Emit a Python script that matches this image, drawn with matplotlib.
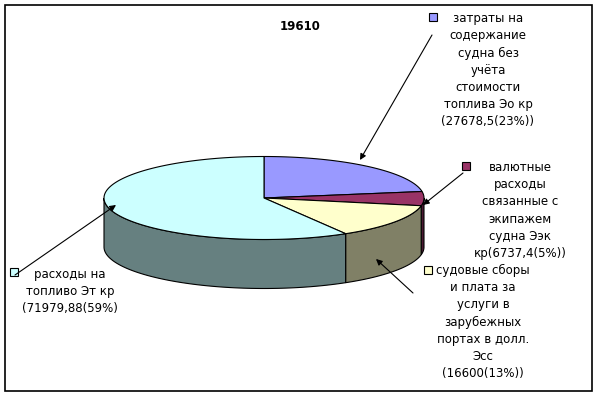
import numpy as np
import matplotlib
matplotlib.use("Agg")
import matplotlib.pyplot as plt
from matplotlib.patches import Polygon, Rectangle

title = "19610"
labels = [
    "затраты на\nсодержание\nсудна без\nучёта\nстоимости\nтоплива Эо кр\n(27678,5(23%))",
    "валютные\nрасходы\nсвязанные с\nэкипажем\nсудна Ээк\nкр(6737,4(5%))",
    "судовые сборы\nи плата за\nуслуги в\nзарубежных\nпортах в долл.\nЭсс\n(16600(13%))",
    "расходы на\nтопливо Эт кр\n(71979,88(59%)",
]
values = [27678.5, 6737.4, 16600, 71979.88]
top_colors = ["#9999FF", "#993366", "#FFFFCC", "#CCFFFF"]
side_colors = ["#4C4C80", "#4C1933", "#808066", "#668080"]

# pie geometry in pixels
cx, cy, ra, rb, depth = 264, 198, 160, 41.5, 49

fig = plt.figure(figsize=(5.97, 3.96), dpi=100)
ax = fig.add_axes([0, 0, 1, 1])
ax.set_xlim(0, 597)
ax.set_ylim(396, 0)
ax.axis("off")

# frame
ax.add_patch(Rectangle((5, 5), 587, 386, fill=False, ec="black", lw=1.2))


def pt(theta, dz=0.0):
    t = np.radians(theta)
    return cx + ra * np.cos(t), cy - rb * np.sin(t) + dz


fracs = np.array(values) / sum(values)
starts = 90 - 360 * np.concatenate([[0], np.cumsum(fracs)[:-1]])
ends = starts - 360 * fracs

# side walls (front half only: theta in [-180, 0])
for s, e, c in zip(starts, ends, side_colors):
    lo, hi = max(e, -180), min(s, 0)
    if hi <= lo:
        continue
    th = np.linspace(hi, lo, 80)
    top = [pt(t) for t in th]
    bot = [pt(t, depth) for t in th[::-1]]
    ax.add_patch(Polygon(top + bot, closed=True, fc=c, ec="black", lw=0.8))

# top wedges
for s, e, c in zip(starts, ends, top_colors):
    th = np.linspace(s, e, 150)
    poly = [(cx, cy)] + [pt(t) for t in th]
    ax.add_patch(Polygon(poly, closed=True, fc=c, ec="black", lw=0.8))

ax.text(300, 27, title, ha="center", va="center", fontsize=8.5,
        fontweight="bold", family="DejaVu Sans")

# labels: (square x, square y, text x, text top y)
label_pos = [(433, 17, 488, 12), (466, 166, 520, 161), (428, 270, 483, 264), (14, 272, 70, 268)]
arrows = [((432, 35), (360, 160)), ((463, 173), (423, 205)),
          ((413, 293), (376, 259)), ((15, 275), (116, 205))]

for (sx, sy, tx, ty), lab, c, (p0, p1) in zip(label_pos, labels, top_colors, arrows):
    ax.add_patch(Rectangle((sx - 4, sy - 4), 8, 8, fc=c, ec="black", lw=0.8))
    ax.text(tx, ty, lab, ha="center", va="top", fontsize=8.5, linespacing=1.42,
            family="DejaVu Sans", multialignment="center")
    ax.annotate("", xy=p1, xytext=p0,
                arrowprops=dict(arrowstyle="-|>", color="black", lw=0.8,
                                mutation_scale=9, shrinkA=0, shrinkB=0))

fig.savefig("out.png", dpi=100)
